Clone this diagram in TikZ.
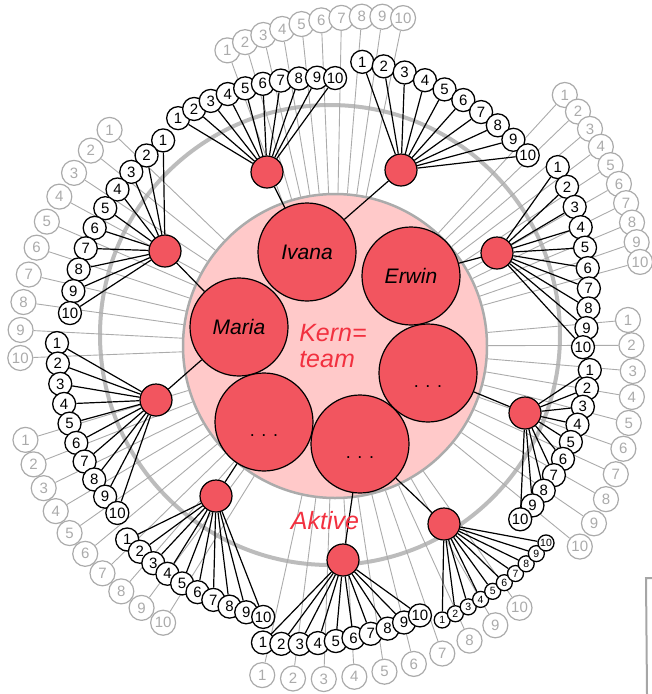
\documentclass[tikz,border=0pt]{standalone}
\usepackage{fontspec}
\setmainfont{Liberation Sans}
\definecolor{kernrot}{HTML}{F2555F}
\definecolor{kernrosa}{HTML}{FFC9C9}
\definecolor{schrift}{HTML}{F2303F}
\definecolor{grau}{HTML}{ABABAB}
\begin{document}
\begin{tikzpicture}[
  x=1pt, y=-1pt,
  font=\fontsize{15}{15}\selectfont,
  num/.style={draw, circle, fill=white, line width=1.3pt, minimum size=23pt, inner sep=0pt},
  passiv/.style={draw=grau, text=grau, circle, fill=white, line width=1.2pt, minimum size=25pt, inner sep=0pt},
  dot/.style={draw, circle, fill=kernrot, line width=1.2pt, minimum size=32pt, inner sep=0pt},
  member/.style={draw, circle, fill=kernrot, line width=1.2pt, minimum size=98pt, inner sep=0pt, font=\fontsize{21}{21}\selectfont\itshape},
  tie/.style={line width=1.2pt},
  faint/.style={grau, line width=0.9pt},
  hand/.style={text=schrift, font=\fontsize{25}{26}\selectfont\itshape}
]
\useasboundingbox (0,0) rectangle (652,694);
\coordinate (C) at (330,345);
\draw[grau!80, line width=4pt] (330,335) circle (230);
\node[circle, draw=grau, line width=2.5pt, fill=kernrosa, minimum size=304pt] (kern) at (335,346) {};

\foreach \k/\a/\ra/\b/\rb in {1/-109.2/312/-77.4/335, 2/-46.8/343/-15/321, 3/-4.8/299/38.9/321,
  4/101.6/337/54.2/324, 5/162.7/319/121/324, 6/-135.7/308/-182.4/310}
  \foreach \i in {1,...,10} {
    \pgfmathsetmacro\ang{\a+(\i-1)*(\b-\a)/9}
    \pgfmathsetmacro\rad{\ra+(\i-1)*(\rb-\ra)/9}
    \node[passiv] (p-\k-\i) at ([shift={(\ang:\rad)}]C) {\i};
    \draw[faint] (p-\k-\i) -- (kern);
  }

\node[dot] (d1) at (267,172) {};
\node[dot] (d2) at (401,170) {};
\node[dot] (d3) at (165,251) {};
\node[dot] (d4) at (497,253) {};
\node[dot] (d5) at (156,400) {};
\node[dot] (d6) at (525,413) {};
\node[dot] (d7) at (216,496) {};
\node[dot] (d8) at (343,560) {};
\node[dot] (d9) at (444,524) {};

\foreach \k/\a/\ra/\b/\rb/\s/\f in {1/-123.8/273/-88.9/267/23/15, 2/-83.5/285/-43.8/274/23/15,
  3/-129.2/264/-173/262/23/15, 4/-38/289/0.5/253/23/15, 5/180.4/273/141.7/271/23/15,
  6/5.5/261/42.5/258/23/15, 7/136.2/281/103.8/280/23/15, 8/102.7/305/71.6/285/23/15,
  9/67.8/297/42.5/293/16/10.5}
  \foreach \i in {1,...,10} {
    \pgfmathsetmacro\ang{\a+(\i-1)*(\b-\a)/9}
    \pgfmathsetmacro\rad{\ra+(\i-1)*(\rb-\ra)/9}
    \node[num, minimum size=\s pt, font=\fontsize{\f}{\f}\selectfont] (n-\k-\i) at ([shift={(\ang:\rad)}]C) {\i};
    \draw[tie] (n-\k-\i) -- (d\k);
  }

\node[member] (ivana) at (307,252) {Ivana};
\node[member] (erwin) at (411,276) {Erwin};
\node[member] (maria) at (239,327) {Maria};
\node[member] (m4) at (428,373) {};
\node[member] (m5) at (264,422) {};
\node[member] (m6) at (360,444) {};
\node[font=\fontsize{18}{18}\selectfont] (m4t) at ([yshift=-14pt]m4) {. . .};
\node[font=\fontsize{18}{18}\selectfont] (m5t) at ([yshift=-14pt]m5) {. . .};
\node[font=\fontsize{18}{18}\selectfont] (m6t) at ([yshift=-14pt]m6) {. . .};

\draw[tie] (ivana) -- (d1);
\draw[tie] (ivana) -- (d2);
\draw[tie] (erwin) -- (d4);
\draw[tie] (maria) -- (d3);
\draw[tie] (maria) -- (d5);
\draw[tie] (m4) -- (d6);
\draw[tie] (m5) -- (d7);
\draw[tie] (m6) -- (d8);
\draw[tie] (m6) -- (d9);

\node[hand, align=left] (kerntext) at (333,346) {Kern=\\team};
\node[hand] (aktivtext) at (325,521) {Aktive};
\draw[gray!70, line width=2pt] (652,578) -- (646,578) -- (647,694);
\end{tikzpicture}
\end{document}
